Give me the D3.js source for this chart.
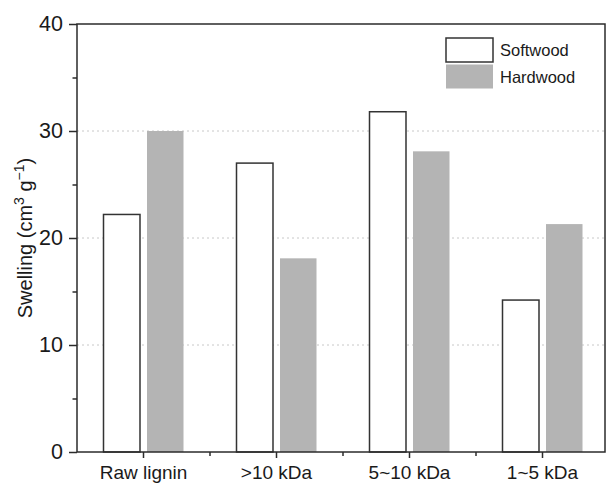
<!DOCTYPE html>
<html><head><meta charset="utf-8">
<script src="https://cdn.jsdelivr.net/npm/d3@7/dist/d3.min.js"></script>
<style>
body{margin:0;background:#fff;}
text{font-family:"Liberation Sans",Arial,sans-serif;fill:#1a1a1a;}
</style></head>
<body><svg id="c" width="608" height="483"></svg>
<script>
const categories = ["Raw lignin", ">10 kDa", "5~10 kDa", "1~5 kDa"];
const series = ["Softwood", "Hardwood"];
const softwood = [22.2, 27.0, 31.8, 14.2];
const hardwood = [30.0, 18.1, 28.1, 21.3];
const yTicks = [0, 10, 20, 30, 40];
const yMinorTicks = [5, 15, 25, 35];
const gridValues = [10, 20, 30];

const svg = d3.select("#c");
const L = 77, R = 605, T = 24, B = 452;
const axisColor = "#2b2b2b";

const x = d3.scaleBand().domain(categories).range([L, L + 4 * 133]).padding(0);
const xi = d3.scaleBand().domain(series).range([-40, 40]).paddingInner(0.161);
const y = d3.scaleLinear().domain([0, 40]).range([B, T]);

// grid
svg.append("g").selectAll("line").data(gridValues).join("line")
  .attr("x1", L).attr("x2", R).attr("y1", d => y(d)).attr("y2", d => y(d))
  .attr("stroke", "#c8c8c8").attr("stroke-width", 1).attr("stroke-dasharray", "2,3");

// bars
const data = categories.map((c, i) => ({c, vals: [
  {s: "Softwood", v: softwood[i]}, {s: "Hardwood", v: hardwood[i]}]}));
const g = svg.append("g").selectAll("g").data(data).join("g")
  .attr("transform", d => `translate(${x(d.c) + x.bandwidth() / 2},0)`);
g.selectAll("rect").data(d => d.vals).join("rect")
  .attr("x", d => xi(d.s)).attr("width", xi.bandwidth())
  .attr("y", d => y(d.v)).attr("height", d => y(0) - y(d.v))
  .attr("fill", d => d.s === "Softwood" ? "#ffffff" : "#b4b4b4")
  .attr("stroke", d => d.s === "Softwood" ? "#333" : "none")
  .attr("stroke-width", 1.5);

// frame
svg.append("rect").attr("x", L).attr("y", T).attr("width", R - L).attr("height", B - T)
  .attr("fill", "none").attr("stroke", axisColor).attr("stroke-width", 1.5);

// y axis
const yAxis = d3.axisLeft(y).tickValues(yTicks).tickSize(8).tickPadding(6).tickFormat(d3.format("d"));
const ya = svg.append("g").attr("transform", `translate(${L},0)`).call(yAxis);
ya.select(".domain").remove();
ya.selectAll("line").attr("stroke", axisColor).attr("stroke-width", 1.5);
ya.selectAll("text").attr("font-size", 21.5).attr("font-family", "Liberation Sans, Arial, sans-serif").attr("fill", "#1a1a1a");
const yMinor = d3.axisLeft(y).tickValues(yMinorTicks).tickSize(4.5).tickFormat("");
const ym = svg.append("g").attr("transform", `translate(${L},0)`).call(yMinor);
ym.select(".domain").remove();
ym.selectAll("line").attr("stroke", axisColor).attr("stroke-width", 1.5);

// x axis
const xAxis = d3.axisBottom(x).tickSize(6).tickPadding(8);
const xa = svg.append("g").attr("transform", `translate(0,${B})`).call(xAxis);
xa.select(".domain").remove();
xa.selectAll("line").attr("stroke", axisColor).attr("stroke-width", 1.5);
xa.selectAll("text").attr("font-size", 19).attr("font-family", "Liberation Sans, Arial, sans-serif").attr("fill", "#1a1a1a");
const bounds = categories.slice(1).map(c => x(c));
svg.append("g").selectAll("line").data(bounds).join("line")
  .attr("x1", d => d).attr("x2", d => d).attr("y1", B).attr("y2", B + 4)
  .attr("stroke", axisColor).attr("stroke-width", 1.5);

// y title
svg.append("text").attr("transform", `translate(32,238) rotate(-90)`)
  .attr("text-anchor", "middle").attr("font-size", 20)
  .html('Swelling (cm<tspan dy="-8" font-size="14">3</tspan><tspan dy="8"> g</tspan><tspan dy="-8" font-size="14">−1</tspan><tspan dy="8">)</tspan>');

// legend
const leg = svg.append("g").attr("transform", "translate(446,38)");
series.forEach((s, i) => {
  leg.append("rect").attr("x", 0).attr("y", i * 26.5).attr("width", 47).attr("height", 24)
    .attr("fill", s === "Softwood" ? "#fff" : "#b4b4b4")
    .attr("stroke", s === "Softwood" ? "#333" : "none").attr("stroke-width", 1.5);
  leg.append("text").attr("x", 54).attr("y", i * 26.5 + 18).attr("font-size", 16.5).text(s);
});
</script></body></html>
